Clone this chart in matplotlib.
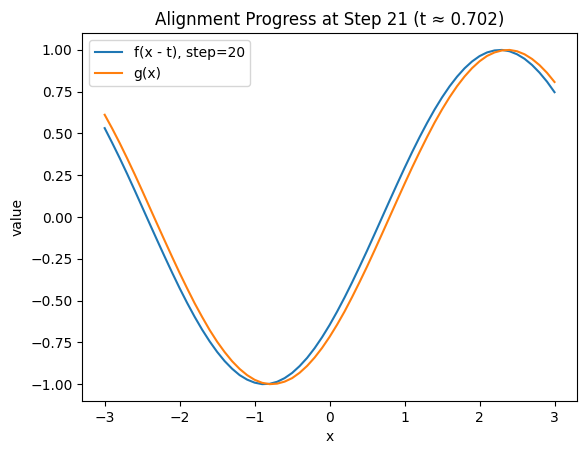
import matplotlib
matplotlib.use("Agg")
import matplotlib.pyplot as plt

# sample points, every 0.1 on x
xs = [-3.0, -2.9, -2.8, -2.7, -2.6, -2.5, -2.4, -2.3, -2.2, -2.1,
      -2.0, -1.9, -1.8, -1.7, -1.6, -1.5, -1.4, -1.3, -1.2, -1.1,
      -1.0, -0.9, -0.8, -0.7, -0.6, -0.5, -0.4, -0.3, -0.2, -0.1,
      0.0, 0.1, 0.2, 0.3, 0.4, 0.5, 0.6, 0.7, 0.8, 0.9,
      1.0, 1.1, 1.2, 1.3, 1.4, 1.5, 1.6, 1.7, 1.8, 1.9,
      2.0, 2.1, 2.2, 2.3, 2.4, 2.5, 2.6, 2.7, 2.8, 2.9,
      3.0]
f_shift = [0.532, 0.444, 0.353, 0.258, 0.160, 0.060, -0.040, -0.139, -0.237, -0.333,
           -0.426, -0.514, -0.597, -0.674, -0.744, -0.807, -0.862, -0.908, -0.946, -0.973,
           -0.991, -1.000, -0.998, -0.986, -0.964, -0.933, -0.892, -0.843, -0.785, -0.719,
           -0.646, -0.566, -0.481, -0.391, -0.297, -0.201, -0.102, -0.002, 0.098, 0.197,
           0.294, 0.388, 0.478, 0.563, 0.643, 0.716, 0.782, 0.840, 0.890, 0.931,
           0.963, 0.985, 0.997, 1.000, 0.992, 0.974, 0.947, 0.910, 0.864, 0.810,
           0.747]
g_vals = [0.612, 0.530, 0.443, 0.351, 0.256, 0.158, 0.058, -0.042, -0.141, -0.239,
          -0.335, -0.427, -0.516, -0.598, -0.676, -0.746, -0.808, -0.863, -0.909, -0.946,
          -0.974, -0.992, -1.000, -0.997, -0.985, -0.964, -0.932, -0.891, -0.841, -0.783,
          -0.717, -0.644, -0.565, -0.479, -0.389, -0.296, -0.199, -0.100, 0.000, 0.100,
          0.199, 0.296, 0.389, 0.479, 0.565, 0.644, 0.717, 0.783, 0.841, 0.891,
          0.932, 0.964, 0.985, 0.997, 1.000, 0.992, 0.974, 0.946, 0.909, 0.863,
          0.808]
step_label = 20
t_val = 0.702

fig = plt.figure(figsize=(5.87, 4.55), dpi=100)
ax = fig.add_subplot(111)
fig.subplots_adjust(left=0.14, right=0.983, top=0.927, bottom=0.119)

ax.plot(xs, f_shift, label='f(x - t), step={}'.format(step_label))
ax.plot(xs, g_vals, label='g(x)')
ax.set_title('Alignment Progress at Step {} (t ≈ {:.3f})'.format(step_label + 1, t_val))
ax.set_xlabel('x')
ax.set_ylabel('value')
ax.legend(loc='upper left')

fig.savefig('out.png', dpi=100)
